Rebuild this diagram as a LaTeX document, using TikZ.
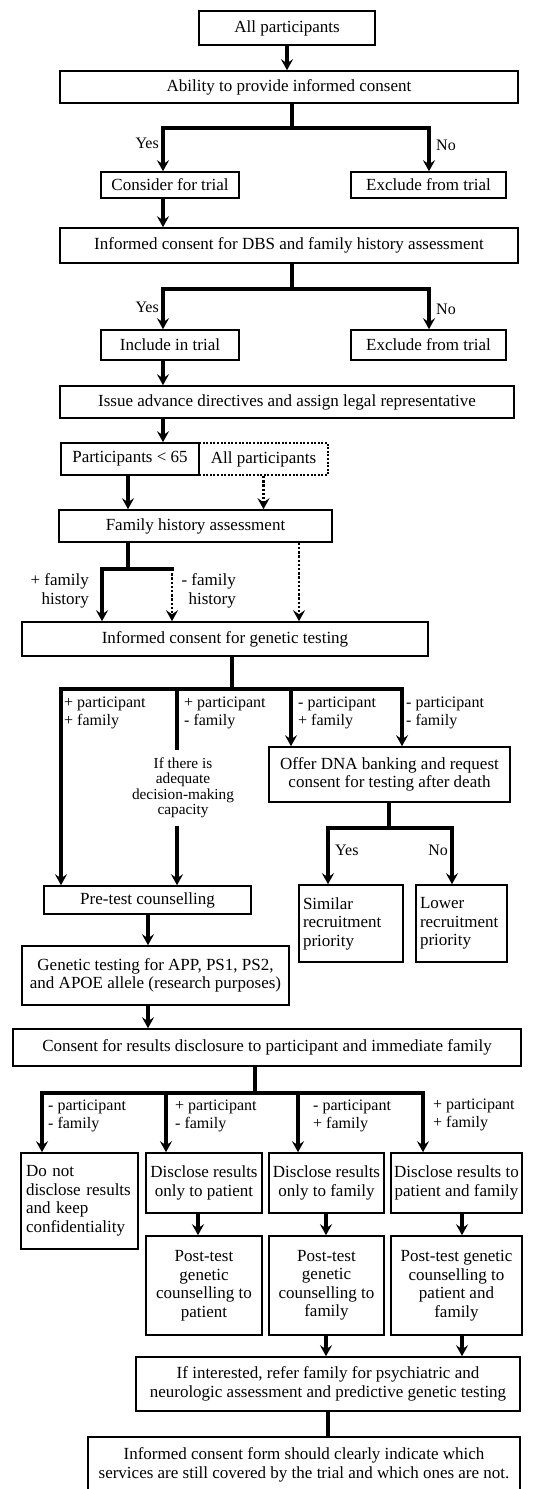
\documentclass[tikz,border=0pt]{standalone}
\usepackage{fontspec}
\setmainfont{Liberation Serif}
\usepackage{tikz}
\usetikzlibrary{positioning, arrows.meta, calc}

\begin{document}
\begin{tikzpicture}[
  x=1pt, y=-1pt,
  every node/.style={font=\fontsize{17}{18.5}\selectfont},
  box/.style 2 args={
    rectangle, draw, line width=1.6pt,
    minimum width=#1pt, minimum height=#2pt,
    inner sep=2pt, align=center
  },
  dotbox/.style 2 args={
    box={#1}{#2}, line width=2pt, dash pattern=on 2pt off 1.6pt
  },
  lab/.style={font=\fontsize{16}{17.5}\selectfont, inner sep=0pt, align=left},
  conn/.style={line width=3.2pt, line cap=rect},
  arr/.style={conn, -{Stealth[length=11pt, width=12pt, inset=4pt]}},
  dotarr/.style={
    line width=2.4pt, dash pattern=on 2.4pt off 1.8pt,
    -{Stealth[length=11pt, width=12pt, inset=4pt]}
  },
]
\useasboundingbox (0,0) rectangle (534,1489);

% === COLUMNS AND ROWS OF THE CONNECTORS ===
\coordinate (cA) at (163,0);
\coordinate (cB) at (429,0);
\coordinate (cS) at (292,0);
\coordinate (cC) at (128,0);
\coordinate (cD) at (102,0);
\coordinate (cE) at (172,0);
\coordinate (cF) at (299,0);
\coordinate (cG) at (232,0);
\coordinate (c1) at (61,0);
\coordinate (c2) at (177,0);
\coordinate (c3) at (291,0);
\coordinate (c4) at (402,0);
\coordinate (cT) at (389,0);
\coordinate (cY) at (328,0);
\coordinate (cN) at (452,0);
\coordinate (cH) at (148,0);
\coordinate (cI) at (255,0);
\coordinate (d1) at (42,0);
\coordinate (d2) at (166,0);
\coordinate (d3) at (298,0);
\coordinate (d4) at (423,0);
\coordinate (e1) at (198,0);
\coordinate (e2) at (326,0);
\coordinate (e3) at (462,0);
\coordinate (r1) at (0,128);
\coordinate (r2) at (0,289);
\coordinate (r3) at (0,569);
\coordinate (r4) at (0,689);
\coordinate (r5) at (0,828);
\coordinate (r6) at (0,1093);

% === BOXES ===
\node[box={176}{34}] (all) at (287,28) {All participants};
\node[box={458}{32}] (ability) at (289,87) {Ability to provide informed consent};
\node[box={138}{26}] (consider) at (170,185) {Consider for trial};
\node[box={155}{26}] (exclA) at (428.5,185) {Exclude from trial};
\node[box={458}{35}] (dbs) at (289,245.5) {Informed consent for DBS and family history assessment};
\node[box={138}{30}] (include) at (170,345) {Include in trial};
\node[box={155}{30}] (exclB) at (428.5,345) {Exclude from trial};
\node[box={454}{32}] (issue) at (287,402) {Issue advance directives and assign legal representative};
\node[box={138}{32}] (under) at (130,459) {Participants < 65};
\node[dotbox={129}{32}] (allp) at (263.5,459) {All participants};
\node[box={273}{32}] (famhist) at (195.5,526) {Family history assessment};
\node[box={406}{34}] (gencons) at (225,639) {Informed consent for genetic testing};
\node[box={241}{55}] (dnabank) at (389.5,774.5) {Offer DNA banking and request\\consent for testing after death};
\node[font=\fontsize{15.3}{15.5}\selectfont, align=center, inner sep=9pt] (capacity) at (183,788)
  {If there is\\adequate\\decision-making\\capacity};
\node[box={207}{28}] (pretest) at (147.5,900) {Pre-test counselling};
\node[box={104}{77}, align=left, text width=96pt] (similar) at (351,923.5) {Similar\\recruitment\\priority};
\node[box={91}{77}, align=left, text width=83pt] (lower) at (461.5,923.5) {Lower\\recruitment\\priority};
\node[box={267}{59}] (gentest) at (155.5,975.5) {Genetic testing for APP, PS1, PS2,\\and APOE allele (research purposes)};
\node[box={508}{37}] (disclose) at (267,1047.5) {Consent for results disclosure to participant and immediate family};
\node[box={117}{96}, align=left, text width=107pt] (nodisc) at (79.5,1201)
  {Do not\\disclose results\\and keep\\confidentiality};
\node[box={116}{60}] (discpat) at (204,1183) {Disclose results\\only to patient};
\node[box={115}{60}] (discfam) at (326.5,1183) {Disclose results\\only to family};
\node[box={131}{60}] (discboth) at (456.5,1183) {Disclose results to\\patient and family};
\node[box={116}{99}] (postpat) at (204,1285.5) {Post-test\\genetic\\counselling to\\patient};
\node[box={115}{99}] (postfam) at (326.5,1285.5) {Post-test\\genetic\\counselling to\\family};
\node[box={131}{99}] (postboth) at (456.5,1285.5) {Post-test genetic\\counselling to\\patient and\\family};
\node[box={384}{54}] (refer) at (328,1384)
  {If interested, refer family for psychiatric and\\neurologic assessment and predictive genetic testing};
\node[box={432}{56}] (final) at (304,1465)
  {Informed consent form should clearly indicate which\\services are still covered by the trial and which ones are not.};

% === BRANCH LABELS ===
\node[lab, anchor=east] (yesA) at (159,143) {Yes};
\node[lab, anchor=west] (noA) at (436,145) {No};
\node[lab, anchor=east] (yesB) at (159,307) {Yes};
\node[lab, anchor=west] (noB) at (436,309) {No};
\node[lab, anchor=east, align=right, font=\fontsize{17}{19}\selectfont] (fhpos) at (89,591) {+ family\\history};
\node[lab, anchor=east, align=right, font=\fontsize{17}{19}\selectfont] (fhneg) at (236,591) {- family\\history};
\node[lab, anchor=west] (gA) at (64,713) {+ participant\\+ family};
\node[lab, anchor=west] (gB) at (184,713) {+ participant\\- family};
\node[lab, anchor=west] (gC) at (298,713) {- participant\\+ family};
\node[lab, anchor=west] (gD) at (406,713) {- participant\\- family};
\node[lab, anchor=west] (yesC) at (335,850) {Yes};
\node[lab, anchor=east] (noC) at (448,850) {No};
\node[lab, anchor=west] (dA) at (48,1116) {- participant\\- family};
\node[lab, anchor=west] (dB) at (175,1116) {+ participant\\- family};
\node[lab, anchor=west] (dC) at (313,1116) {- participant\\+ family};
\node[lab, anchor=west] (dD) at (433,1115) {+ participant\\+ family};

% === CONNECTORS ===
\draw[arr] (all.south) -- (all.south |- ability.north);
\draw[arr] (ability.south -| cS) -- (r1 -| cS) -| (consider.north -| cA);
\draw[arr] (r1 -| cS) -| (exclA.north -| cB);
\draw[arr] (consider.south -| cA) -- (dbs.north -| cA);
\draw[arr] (dbs.south -| cS) -- (r2 -| cS) -| (include.north -| cA);
\draw[arr] (r2 -| cS) -| (exclB.north -| cB);
\draw[arr] (include.south -| cA) -- (issue.north -| cA);
\draw[arr] (issue.south -| cA) -- (under.north -| cA);
\draw[arr] (under.south -| cC) -- (famhist.north -| cC);
\draw[dotarr] (allp.south) -- (allp.south |- famhist.north);
\draw[conn] (famhist.south -| cC) -- (r3 -| cC);
\draw[arr] (r3 -| cE) -- (r3 -| cD) -- (gencons.north -| cD);
\draw[dotarr] (r3 -| cE) -- (gencons.north -| cE);
\draw[dotarr] (famhist.south -| cF) -- (gencons.north -| cF);
\draw[conn] (gencons.south -| cG) -- (r4 -| cG);
\draw[arr] (r4 -| cG) -| (pretest.north -| c1);
\draw[arr] (r4 -| cG) -| (dnabank.north -| c4);
\draw[conn] (r4 -| c2) -- (capacity.north -| c2);
\draw[arr] (capacity.south -| c2) -- (pretest.north -| c2);
\draw[arr] (r4 -| c3) -- (dnabank.north -| c3);
\draw[conn] (dnabank.south -| cT) -- (r5 -| cT);
\draw[arr] (r5 -| cT) -| (similar.north -| cY);
\draw[arr] (r5 -| cT) -| (lower.north -| cN);
\draw[arr] (pretest.south -| cH) -- (gentest.north -| cH);
\draw[arr] (gentest.south -| cH) -- (disclose.north -| cH);
\draw[conn] (disclose.south -| cI) -- (r6 -| cI);
\draw[arr] (r6 -| cI) -| (nodisc.north -| d1);
\draw[arr] (r6 -| cI) -| (discboth.north -| d4);
\draw[arr] (r6 -| d2) -- (discpat.north -| d2);
\draw[arr] (r6 -| d3) -- (discfam.north -| d3);
\draw[arr] (discpat.south -| e1) -- (postpat.north -| e1);
\draw[arr] (discfam.south -| e2) -- (postfam.north -| e2);
\draw[arr] (discboth.south -| e3) -- (postboth.north -| e3);
\draw[arr] (postfam.south -| e2) -- (refer.north -| e2);
\draw[arr] (postboth.south -| e3) -- (refer.north -| e3);
\draw[conn] (refer.south) -- (refer.south |- final.north);

\end{tikzpicture}
\end{document}
